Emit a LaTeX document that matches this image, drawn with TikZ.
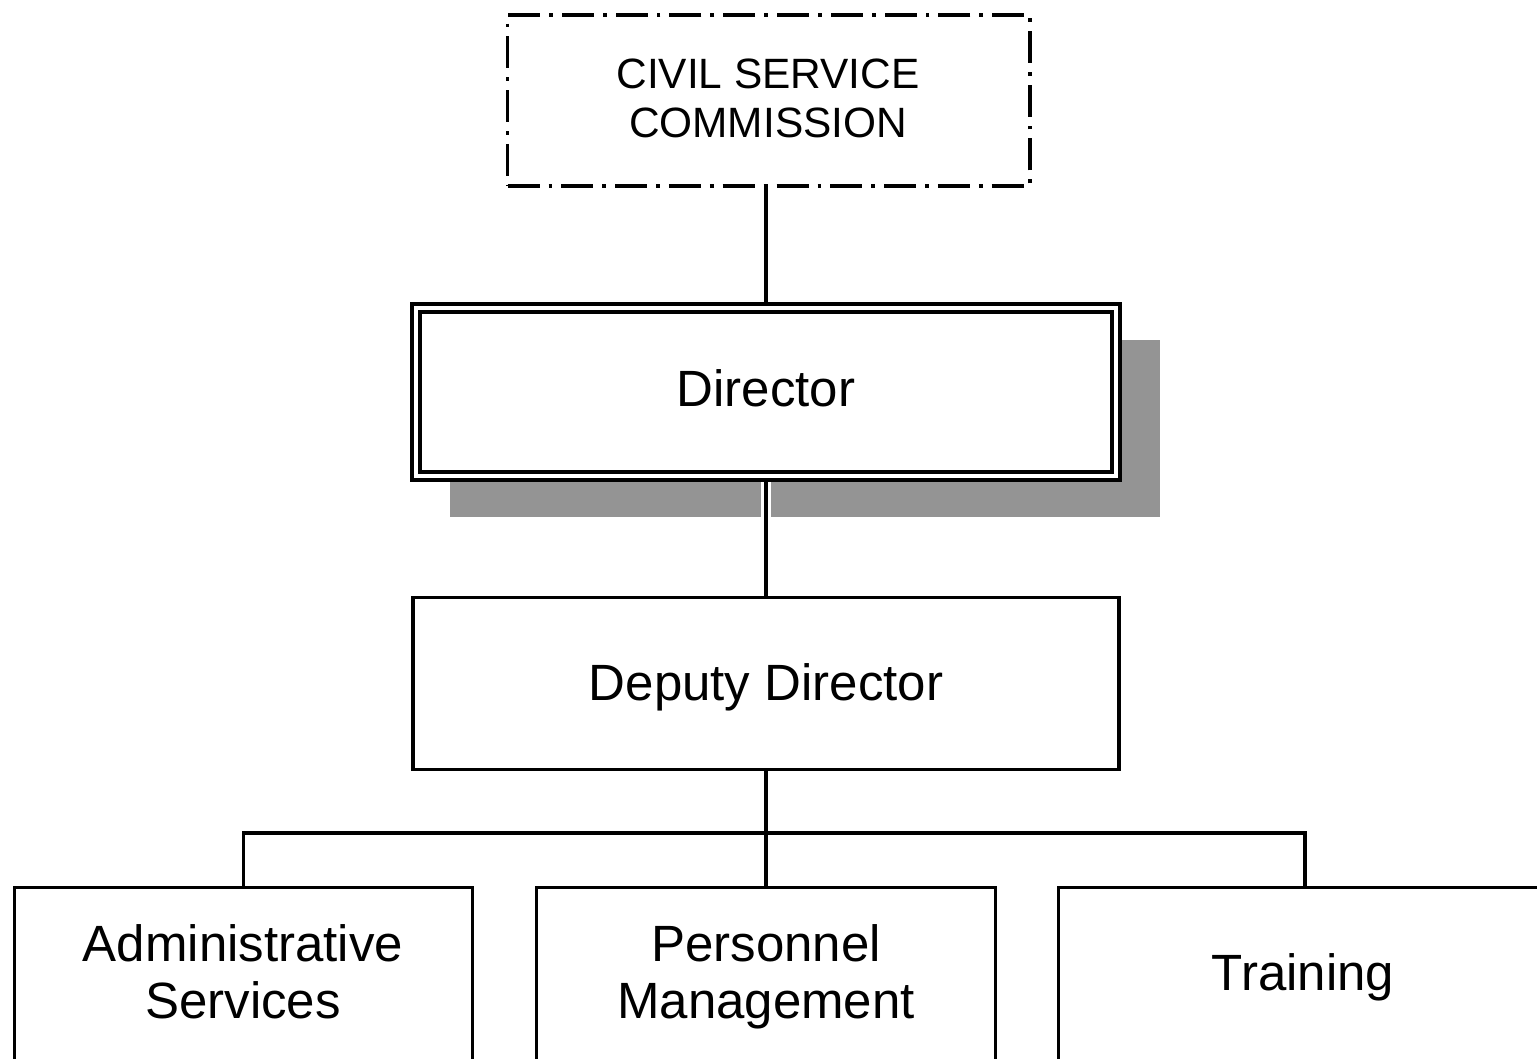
\documentclass[tikz,border=0pt]{standalone}
\usepackage{fontspec}
\setmainfont{Liberation Sans}
\begin{document}
\begin{tikzpicture}[x=0.5pt,y=-0.5pt,
  line width=1.9pt,
  bigtext/.style={font=\fontsize{25.5}{28.5}\selectfont, align=center, inner sep=0pt},
  smalltext/.style={font=\fontsize{21.2}{24.5}\selectfont, align=center, inner sep=0pt},
  orgbox/.style={draw, fill=white, rectangle, inner sep=0pt},
  dashdot/.style={dash pattern=on 16pt off 4.5pt on 1.9pt off 4.5pt},
  shadowfill/.style={fill=black!42, draw=none}]
\useasboundingbox (0,0) rectangle (1537,1059);
\clip (0,0) rectangle (1537,1059);
\fill[white] (0,0) rectangle (1537,1059);

% shadow of the Director box
\path[shadowfill] (450,340) rectangle (1160,517);

% boxes
\node[orgbox, dashdot, minimum width=261.25pt, minimum height=85.5pt] (csc) at (768.75,100.5) {};
\node[smalltext] (csct) at (768,98.5) {CIVIL SERVICE\\COMMISSION};

\node[orgbox, double=white, double distance=2.2pt, outer sep=3pt,
      minimum width=350pt, minimum height=84pt] (dir) at (766,392) {};
\node[bigtext] (dirt) at (766,388.5) {Director};

\node[orgbox, minimum width=353pt, minimum height=86pt] (dep) at (766,683.5) {};
\node[bigtext] (dept) at (766,687) {Deputy Director};

\node[orgbox, minimum width=229pt, minimum height=96.25pt] (adm) at (243.5,983.75) {};
\node[bigtext] (admt) at (243,971.5) {Administrative\\Services};

\node[orgbox, minimum width=229.5pt, minimum height=96.25pt] (per) at (766,983.75) {};
\node[bigtext] (pert) at (766,976.5) {Personnel\\Management};

\node[orgbox, minimum width=246.75pt, minimum height=96.25pt] (trn) at (1305.25,983.75) {};
\node[bigtext] (trnt) at (1303,977) {Training};

% connectors
\draw (csc.south -| dir.north) -- (dir.north);
\draw[white, line width=5pt] (dir.south) -- (dep.north);
\draw (dir.south) -- (dep.north);
\coordinate (bus) at (766,833);
\draw (dep.south) -- (bus);
\draw (adm.north) -- (adm.north |- bus) -- (trn.north |- bus) -- (trn.north);
\draw (bus) -- (per.north);
\end{tikzpicture}
\end{document}
